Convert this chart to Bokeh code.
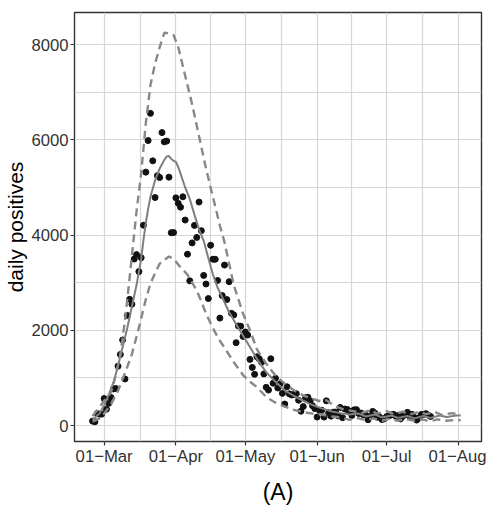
import pandas as pd
from bokeh.plotting import figure
from bokeh.models import FixedTicker, Range1d
from bokeh.embed import file_html
from bokeh.resources import INLINE

# ---------------- data ----------------
first_day = "2020-02-25"
positives = [
    93, 78, 250, 238, 240,
    566, 342, 466, 587, 769, 778, 1247, 1492, 1797, 977, 2313, 2651, 2547, 3497, 3590, 3233,
    3526, 4207, 5322, 5986, 6557, 5560, 4789, 5249, 5210, 6153, 5959, 5974, 5217, 4050, 4053,
    4782, 4668, 4585, 4805, 4316, 3599, 3039, 3836, 4204, 3951, 4694, 4092, 3153, 2972, 2667,
    3786, 3493, 3491, 3047, 2256, 2729, 3370, 2646, 3021, 2357, 2324, 1739, 2091, 2086, 1872,
    1965, 1900, 1389, 1221, 1075, 1444, 1401, 1327, 1083, 802, 744, 1402, 888, 992, 789, 875,
    675, 451, 813, 665, 642, 652, 669, 531, 300, 397, 584, 593, 516, 416, 355,
    178, 318, 321, 177, 518, 270, 197, 280, 283, 202, 379, 163, 346, 338, 301, 210, 329, 333,
    251, 262, 224, 218, 122, 190, 296, 259, 175, 174, 126, 142,
    187, 201, 223, 235, 192, 208, 138, 193, 229, 276, 188, 234, 169, 114, 162, 230, 233, 249,
    219, 190,
]

origin = "2020-03-01"  # day 0 for the curve knots below
fit_days = [-5, -2, 0, 2, 4, 6, 8, 10, 12, 14, 16, 17, 18, 19, 20, 22, 24, 26, 27, 28, 29, 30,
            31, 32, 33, 35, 37, 39, 41, 43, 45, 47, 49, 50, 54, 58, 62, 66, 70, 74, 78, 82, 86,
            90, 94, 98, 102, 106, 110, 113, 117, 120, 124, 127, 131, 134, 138, 141, 145, 148,
            152, 154]
fit_vals = [120, 250, 420, 650, 900, 1250, 1650, 2050, 2500, 2950, 3500, 3900, 4250, 4550,
            4800, 5150, 5400, 5580, 5650, 5660, 5600, 5560, 5540, 5430, 5290, 5000, 4760, 4430,
            4120, 3880, 3520, 3170, 2900, 2800, 2380, 2050, 1730, 1400, 1120, 920, 740, 620,
            520, 430, 360, 300, 260, 230, 250, 190, 230, 170, 210, 160, 200, 150, 200, 160, 210,
            180, 210, 210]

upper_days = [-5, -2, 0, 3, 5, 7, 9, 11, 12.5, 14, 16, 18, 20, 22, 24, 26, 28, 30, 32, 34, 36,
              38, 40, 42, 44, 46, 48, 50, 52, 54, 56, 58, 60, 63, 66, 70, 74, 78, 82, 86, 90,
              94, 96, 100, 104, 108, 111, 115, 118, 122, 125, 129, 132, 136, 139, 143, 146,
              150, 154]
upper_vals = [200, 380, 520, 700, 1050, 1500, 2200, 3100, 3800, 4500, 5300, 6350, 7150, 7600,
              7950, 8250, 8240, 8200, 7950, 7550, 7150, 6750, 6300, 5850, 5400, 5000, 4600,
              4200, 3850, 3400, 2950, 2650, 2350, 2000, 1600, 1300, 1050, 880, 740, 630, 560,
              500, 530, 400, 330, 300, 260, 320, 250, 300, 240, 290, 230, 290, 240, 280, 220,
              260, 230]

lower_days = [-5, -2, 0, 3, 6, 9, 12, 15, 18, 20, 22, 24, 26, 28, 30, 32, 34, 36, 38, 40, 42,
              44, 46, 48, 50, 53, 56, 60, 63, 66, 70, 74, 78, 82, 86, 90, 94, 98, 102, 106, 109,
              113, 116, 120, 123, 127, 130, 134, 137, 141, 144, 148, 152, 154]
lower_vals = [80, 150, 250, 450, 730, 1100, 1500, 2050, 2650, 2980, 3200, 3400, 3480, 3550,
              3500, 3380, 3270, 3170, 3000, 2840, 2600, 2350, 2150, 1950, 1780, 1560, 1330,
              1060, 920, 805, 600, 480, 400, 330, 280, 250, 230, 190, 170, 120, 160, 110, 150,
              100, 140, 100, 140, 100, 130, 90, 130, 100, 120, 110]

month_ticks = ["2020-03-01", "2020-04-01", "2020-05-01", "2020-06-01", "2020-07-01", "2020-08-01"]
month_labels = ["01\u2212Mar", "01\u2212Apr", "01\u2212May", "01\u2212Jun", "01\u2212Jul", "01\u2212Aug"]
y_ticks = [0, 2000, 4000, 6000, 8000]
y_minor = [1000, 3000, 5000, 7000]

x_start_offset = -12.8   # days before origin where the panel starts
x_end_offset = 163.0
y_lo, y_hi = -336, 8676

# ---------------- build ----------------
FONT = "Liberation Sans"
o = pd.Timestamp(origin)
pt_dates = pd.date_range(first_day, periods=len(positives), freq="D")
fit_x = [o + pd.Timedelta(days=d) for d in fit_days]
up_x = [o + pd.Timedelta(days=d) for d in upper_days]
lo_x = [o + pd.Timedelta(days=d) for d in lower_days]

def ms(ts):
    return pd.Timestamp(ts).value // 10**6

major_ms = [ms(t) for t in month_ticks]
minor_ms = [(a + b) / 2 for a, b in zip(major_ms[:-1], major_ms[1:])]

p = figure(width=486, height=508, x_axis_type="datetime",
           x_range=Range1d(o + pd.Timedelta(days=x_start_offset), o + pd.Timedelta(days=x_end_offset)),
           y_range=Range1d(y_lo, y_hi),
           output_backend="svg", toolbar_location=None,
           min_border_left=74, min_border_right=5, min_border_top=12, min_border_bottom=67)

p.background_fill_color = "white"
p.border_fill_color = "white"
p.outline_line_color = "#333333"
p.outline_line_width = 1.4

p.xaxis.ticker = FixedTicker(ticks=major_ms, minor_ticks=minor_ms)
p.xaxis.major_label_overrides = {m: lab for m, lab in zip(major_ms, month_labels)}
p.yaxis.ticker = FixedTicker(ticks=y_ticks, minor_ticks=y_minor)

for ax in (p.xaxis, p.yaxis):
    ax.axis_line_color = None
    ax.major_tick_line_color = "#333333"
    ax.major_tick_line_width = 1.2
    ax.major_tick_out = 4
    ax.major_tick_in = 0
    ax.minor_tick_out = 0
    ax.minor_tick_in = 0
    ax.major_label_text_font = FONT
    ax.major_label_text_font_size = "16.7px"
    ax.major_label_text_color = "#333333"
    ax.axis_label_text_font = FONT
    ax.axis_label_text_font_style = "normal"
    ax.axis_label_text_color = "black"

p.xaxis.major_label_standoff = 1
p.yaxis.major_label_standoff = 2
p.xaxis.axis_label = "(A)"
p.xaxis.axis_label_text_font_size = "23px"
p.xaxis.axis_label_standoff = 10
p.yaxis.axis_label = "daily positives"
p.yaxis.axis_label_text_font_size = "21px"
p.yaxis.axis_label_standoff = 1

for g in (p.xgrid, p.ygrid):
    g.grid_line_color = "#d6d6d6"
    g.grid_line_width = 1.2
    g.minor_grid_line_color = "#d6d6d6"
    g.minor_grid_line_width = 1.2

p.scatter(pt_dates, positives, size=6, color="#111111")
p.line(fit_x, fit_vals, line_color="#7f7f7f", line_width=2)
p.line(up_x, upper_vals, line_color="#888888", line_width=2.4, line_dash="8 5")
p.line(lo_x, lower_vals, line_color="#888888", line_width=2.4, line_dash="8 5")

open("out.html", "w").write(file_html(p, INLINE))
